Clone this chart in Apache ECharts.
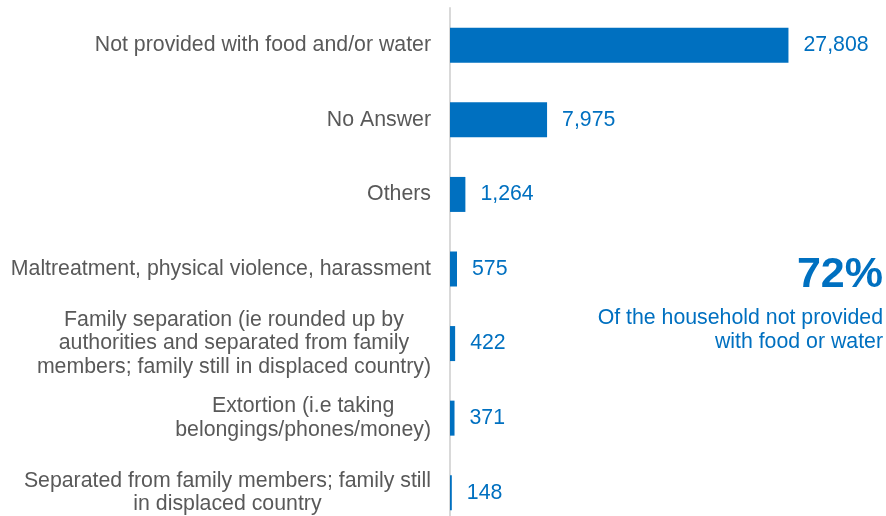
<!DOCTYPE html>
<html>
<head>
<meta charset="utf-8">
<style>
  html, body { margin: 0; padding: 0; background: #fff; }
  #chart-container { width: 886px; height: 516px; }
</style>
<script src="https://cdn.jsdelivr.net/npm/echarts@6/dist/echarts.min.js"></script>
</head>
<body>
<div id="chart-container"></div>
<script>
// 类别（从上到下）
var categories = [
  'Not provided with food and/or water',
  'No Answer',
  'Others',
  'Maltreatment, physical violence, harassment',
  'Family separation (ie rounded up by\nauthorities and separated from family\nmembers; family still in displaced country)',
  'Extortion (i.e taking\nbelongings/phones/money)',
  'Separated from family members; family still\nin displaced country'
];
// 数值
var values = [27808, 7975, 1264, 575, 422, 371, 148];

var blue = '#0070C0';
var fontSize = 21.3;

var container = document.getElementById('chart-container');
var myChart = echarts.init(container);

myChart.setOption({
  animation: false,
  grid: { left: 450, right: 10, top: 8, height: 522, outerBoundsMode: 'none', containLabel: false },
  xAxis: {
    type: 'value',
    min: 0,
    max: 35000,
    show: false
  },
  yAxis: {
    type: 'category',
    inverse: true,
    data: categories,
    axisLine: { show: true, lineStyle: { color: '#d9d9d9', width: 2 } },
    axisTick: { show: false },
    axisLabel: {
      margin: 19,
      color: '#595959',
      fontFamily: 'Liberation Sans, Arial, sans-serif',
      fontSize: fontSize,
      align: 'right',
      lineHeight: 23.5,
      formatter: function (v) {
        // 多行文字居中
        return v.split('\n').map(function (s) { return '{c|' + s + '}'; }).join('\n');
      },
      rich: {
        c: {
          align: 'center',
          color: '#595959',
          fontFamily: 'Liberation Sans, Arial, sans-serif',
          fontSize: fontSize,
          lineHeight: 23.5
        }
      }
    }
  },
  series: [
    {
      type: 'bar',
      data: values,
      barWidth: 35,
      itemStyle: { color: blue },
      label: {
        show: true,
        position: 'right',
        distance: 15,
        color: blue,
        fontFamily: 'Liberation Sans, Arial, sans-serif',
        fontSize: fontSize,
        formatter: function (p) { return p.value.toLocaleString('en-US'); }
      }
    }
  ],
  graphic: [
    {
      type: 'text',
      right: 3,
      top: 254,
      style: {
        text: '72%',
        fill: blue,
        font: 'bold 43px "Liberation Sans", Arial, sans-serif',
        textAlign: 'right'
      }
    },
    {
      type: 'text',
      right: 3,
      top: 306,
      style: {
        text: 'Of the household not provided\nwith food or water',
        fill: blue,
        font: fontSize + 'px "Liberation Sans", Arial, sans-serif',
        lineHeight: 24,
        textAlign: 'right'
      }
    }
  ]
});
</script>
</body>
</html>
